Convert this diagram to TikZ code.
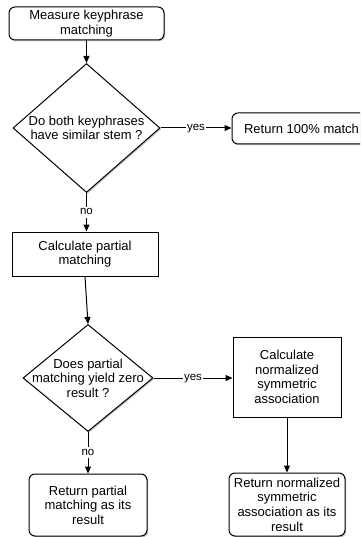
\documentclass[tikz,border=0pt]{standalone}
\usepackage{fontspec}
\setmainfont{Liberation Sans}
\usetikzlibrary{shapes.geometric,arrows.meta,shadows,calc}
\begin{document}
\begin{tikzpicture}[x=1pt,y=-1pt,
  every node/.style={font=\fontsize{13}{14.6}\selectfont, align=center, inner sep=0pt},
  shade/.style={drop shadow={shadow xshift=1.2pt, shadow yshift=-1.2pt, opacity=0.25, fill=black}},
  box/.style={draw, line width=1pt, fill=white, shade},
  rbox/.style={box, rounded corners=6pt},
  dia/.style={draw, diamond, line width=1pt, fill=white, shade},
  arr/.style={line width=1pt, -{Triangle[length=7pt,width=6pt]}},
  lab/.style={fill=white, font=\fontsize{11.5}{12}\selectfont, inner sep=1pt, text height=7pt, text depth=2pt}
]
\useasboundingbox (0,0) rectangle (360,537);
\clip (0,0) rectangle (360,537);

\node[rbox, minimum width=155, minimum height=33] (start) at (86.5,23.5) {Measure keyphrase\\matching};

\node[dia, minimum width=147, minimum height=129] (d1) at (86.5,128) {};
\node at (d1) {Do both keyphrases\\have similar stem ?};

\node[rbox, minimum width=139, minimum height=31] (r100) at (301.5,128.5) {Return 100\% match};

\node[box, minimum width=146, minimum height=44] (cp) at (85,254) {Calculate partial\\matching};

\node[dia, minimum width=130, minimum height=107] (d2) at (88,378) {};
\node at (d2) {Does partial\\matching yield zero\\result ?};

\node[box, minimum width=108, minimum height=80] (cn) at (287,377) {Calculate\\normalized\\symmetric\\association};

\node[rbox, minimum width=118, minimum height=62] (rp) at (88,505) {Return partial\\matching as its\\result};

\node[rbox, minimum width=116, minimum height=63] (rn) at (287,504.5) {Return normalized\\symmetric\\association as its\\result};

\draw[arr] (start.south) -- (start.south |- d1.north);
\draw[arr] (d1.east) -- node[lab] {yes} (d1.east -| r100.west);
\draw[arr] (d1.south) -- node[lab] {no} (d1.south |- cp.north);
\draw[arr] (cp.south) -- (d2.north);
\draw[arr] (d2.east) -- node[lab] {yes} (d2.east -| cn.west);
\draw[arr] (d2.south) -- node[lab] {no} (d2.south |- rp.north);
\draw[arr] (cn.south) -- (rn.north);
\end{tikzpicture}
\end{document}
